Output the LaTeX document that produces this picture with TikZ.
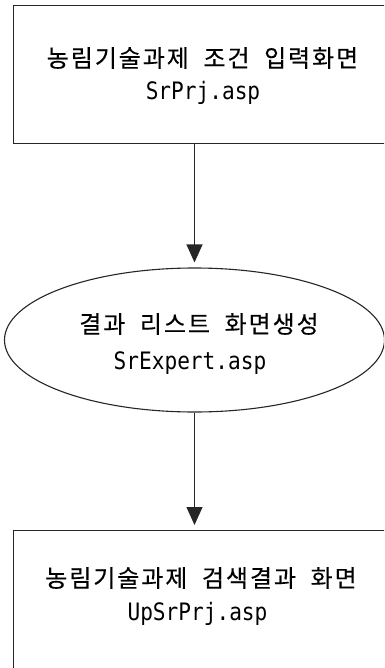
\documentclass[tikz,border=0pt]{standalone}
\usepackage{fontspec}
\usetikzlibrary{arrows.meta,shapes.geometric}
\newfontfamily\krfont{Noto Sans CJK KR}[LetterSpace=8,WordSpace=2,FakeBold=0.3]
\newfontfamily\latfont{DejaVu Sans Mono}[FakeStretch=0.88]
\tikzset{
  frame/.style={draw=black!85,line width=1.1pt,inner sep=0pt},
  boxshape/.style={frame,rectangle,anchor=north west,minimum width=400pt,minimum height=138pt},
  ellshape/.style={frame,ellipse,minimum width=380pt,minimum height=144pt},
  krtext/.style={inner sep=0pt,font=\krfont\fontsize{24}{28}\selectfont},
  lattext/.style={inner sep=0pt,font=\latfont\fontsize{24}{28}\selectfont},
  arr/.style={draw=black!85,line width=1.1pt,-{Triangle[length=18pt,width=16pt]},shorten >=5pt}
}
\begin{document}
\begin{tikzpicture}[x=1pt,y=-1pt]
\useasboundingbox (0,0) rectangle (384,668);
\clip (0,0) rectangle (384,668);
\node[boxshape] (top) at (12.5,5) {};
\node[krtext] (toptxt) at (202.5,58) {농림기술과제 조건 입력화면};
\node[lattext] (topfile) at (203,93) {SrPrj.asp};
\node[ellshape] (ell) at (194.5,340) {};
\node[krtext] (elltxt) at (199,324) {결과 리스트 화면생성};
\node[lattext] (ellfile) at (190,363) {SrExpert.asp};
\node[boxshape,minimum height=200pt] (bot) at (12.5,530) {};
\node[krtext] (bottxt) at (201,578) {농림기술과제 검색결과 화면};
\node[lattext] (botfile) at (197.5,614) {UpSrPrj.asp};
\draw[arr] (top.south -| ell.north) -- (ell.north);
\draw[arr] (ell.south) -- (ell.south |- bot.north);
\end{tikzpicture}
\end{document}
